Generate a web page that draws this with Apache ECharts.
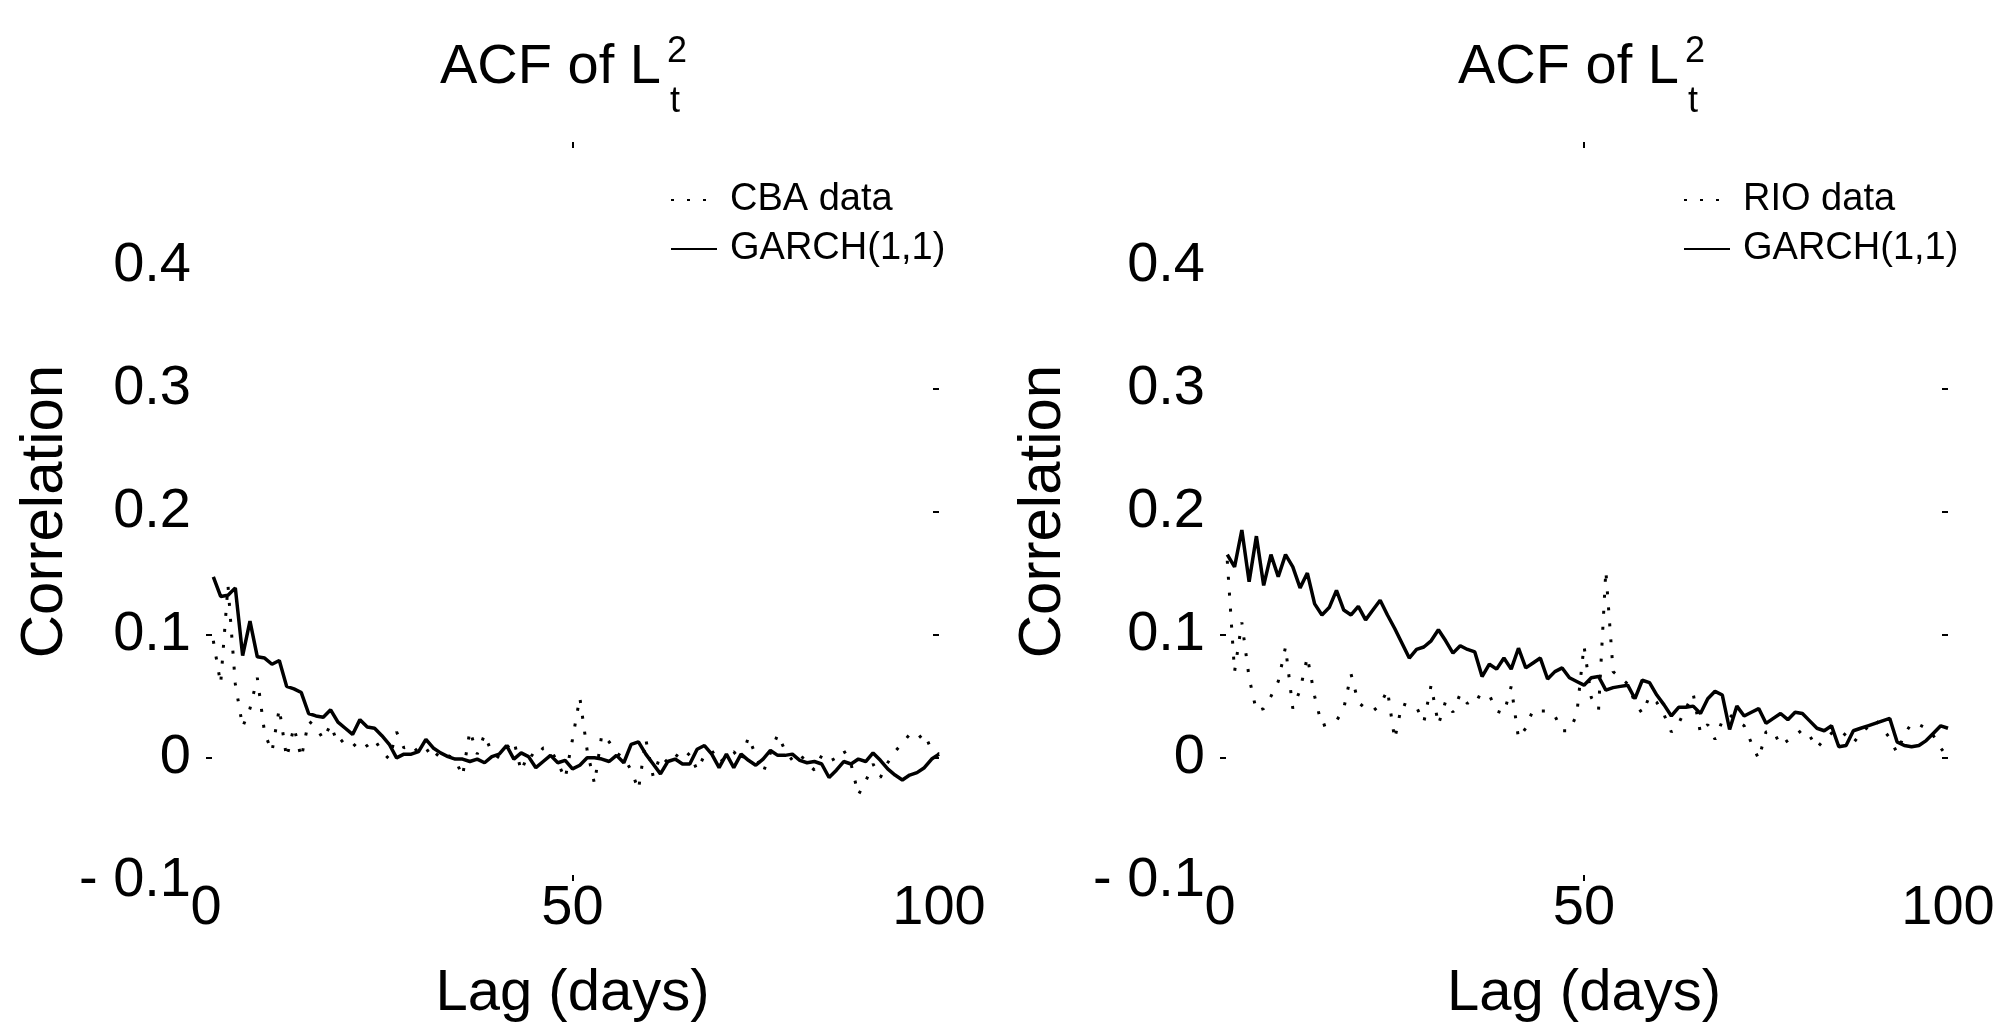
<!DOCTYPE html>
<html>
<head>
<meta charset="utf-8">
<script src="https://cdn.jsdelivr.net/npm/echarts@6/dist/echarts.min.js"></script>
<style>
html,body{margin:0;padding:0;background:#fff;}
#chart{width:2002px;height:1028px;}
</style>
</head>
<body>
<div id="chart"></div>
<script>
// ---- data ----
const lags = [1,2,3,4,5,6,7,8,9,10,11,12,13,14,15,16,17,18,19,20,
  21,22,23,24,25,26,27,28,29,30,31,32,33,34,35,36,37,38,39,40,
  41,42,43,44,45,46,47,48,49,50,51,52,53,54,55,56,57,58,59,60,
  61,62,63,64,65,66,67,68,69,70,71,72,73,74,75,76,77,78,79,80,
  81,82,83,84,85,86,87,88,89,90,91,92,93,94,95,96,97,98,99,100];

const cbaData = [0.095,0.060,0.140,0.060,0.025,0.040,0.065,0.020,0.005,0.040,
  0.000,0.025,0.000,0.030,0.025,0.015,0.027,0.011,0.016,0.012,
  0.006,0.010,0.015,0.005,-0.001,0.021,0.008,0.011,0.004,0.008,
  -0.001,0.006,0.002,-0.001,-0.015,0.022,0.003,0.019,0.004,0.000,
  0.008,0.014,-0.011,0.004,0.000,0.008,0.007,-0.004,-0.017,0.015,
  0.049,0.006,-0.021,0.019,0.013,0.004,0.000,-0.010,-0.026,0.015,
  -0.015,0.002,-0.004,0.003,-0.002,0.004,-0.010,0.002,0.006,-0.004,
  0.001,0.005,-0.003,0.017,0.002,-0.012,0.004,0.019,0.006,-0.002,
  0.003,-0.004,-0.010,0.002,-0.003,0.000,0.006,-0.005,-0.030,-0.019,
  -0.005,-0.016,-0.004,0.005,0.012,0.019,0.015,0.020,0.006,0.003];

const cbaGarch = [0.147,0.131,0.132,0.138,0.083,0.111,0.082,0.081,0.076,0.079,
  0.058,0.056,0.053,0.036,0.034,0.033,0.039,0.029,0.024,0.019,
  0.031,0.025,0.024,0.018,0.011,0.000,0.003,0.003,0.005,0.015,
  0.008,0.004,0.001,-0.001,-0.001,-0.003,-0.001,-0.004,0.001,0.003,
  0.010,-0.001,0.004,0.001,-0.008,-0.003,0.002,-0.004,-0.002,-0.009,
  -0.006,0.000,0.000,-0.001,-0.003,0.002,-0.004,0.011,0.013,0.003,
  -0.005,-0.013,-0.003,-0.001,-0.005,-0.005,0.007,0.010,0.003,-0.008,
  0.003,-0.008,0.003,-0.002,-0.006,-0.001,0.006,0.002,0.002,0.003,
  -0.002,-0.004,-0.003,-0.005,-0.016,-0.010,-0.003,-0.005,-0.001,-0.003,
  0.004,-0.002,-0.009,-0.014,-0.018,-0.014,-0.012,-0.008,-0.001,0.003];

const rioData = [0.160,0.070,0.110,0.065,0.038,0.040,0.050,0.062,0.090,0.040,
  0.055,0.082,0.050,0.026,0.028,0.030,0.040,0.068,0.045,0.040,
  0.038,0.043,0.055,0.015,0.044,0.042,0.041,0.029,0.059,0.027,
  0.046,0.037,0.052,0.044,0.051,0.048,0.051,0.038,0.036,0.058,
  0.016,0.024,0.039,0.038,0.038,0.034,0.022,0.022,0.035,0.091,
  0.049,0.039,0.152,0.070,0.065,0.060,0.045,0.036,0.050,0.045,
  0.035,0.021,0.028,0.040,0.052,0.020,0.027,0.015,0.030,0.035,
  0.030,0.026,0.012,-0.001,0.021,0.022,0.010,0.014,0.018,0.023,
  0.018,0.008,0.015,0.020,0.023,0.018,0.012,0.020,0.025,0.031,
  0.024,0.016,0.004,0.019,0.028,0.027,0.024,0.018,0.008,0.000];

const rioGarch = [0.165,0.155,0.185,0.143,0.180,0.140,0.165,0.147,0.165,0.155,
  0.138,0.150,0.125,0.116,0.122,0.136,0.120,0.116,0.123,0.112,
  0.120,0.128,0.116,0.105,0.093,0.081,0.088,0.090,0.095,0.104,
  0.095,0.085,0.091,0.088,0.086,0.066,0.076,0.072,0.081,0.072,
  0.089,0.073,0.077,0.081,0.064,0.070,0.073,0.065,0.062,0.059,
  0.065,0.066,0.055,0.057,0.058,0.059,0.048,0.063,0.061,0.051,
  0.043,0.034,0.041,0.041,0.042,0.036,0.048,0.054,0.051,0.023,
  0.042,0.034,0.037,0.040,0.028,0.032,0.036,0.031,0.037,0.036,
  0.030,0.024,0.022,0.026,0.009,0.010,0.022,0.024,0.026,0.028,
  0.030,0.032,0.013,0.010,0.009,0.010,0.014,0.020,0.026,0.024];

const panelTitles = ['ACF of L', 'ACF of L'];
const legendNames = [['CBA data', 'GARCH(1,1)'], ['RIO data', 'GARCH(1,1)']];
const xName = 'Lag (days)';
const yName = 'Correlation';

// ---- chart ----
const FONT = '"Liberation Sans", Arial, Helvetica, sans-serif';
const chart = echarts.init(document.getElementById('chart'), null, {renderer: 'canvas'});

function pairs(xs, ys) { return xs.map((x, i) => [x, ys[i]]); }
function yFmt(v) {
  const r = Math.round(v * 10) / 10;
  if (r > 0.45) return '';
  if (r === 0) return '0';
  if (r < 0) return '- ' + Math.abs(r).toFixed(1);
  return r.toFixed(1);
}
function ticks(vals) {
  return {show: true, inside: true, length: 6, customValues: vals, lineStyle: {color: '#000', width: 2}};
}
const noLine = {show: false, onZero: false};

const grids = [
  {left: 206, right: 1063, top: 142, bottom: 144},
  {left: 1220, right: 54, top: 142, bottom: 144}
];

const xAxes = [], yAxes = [];
[0, 1].forEach(g => {
  xAxes.push({
    gridIndex: g, type: 'value', min: 0, max: 100, interval: 50, position: 'bottom',
    axisLine: noLine, splitLine: {show: false}, axisTick: ticks([50]),
    axisLabel: {color: '#000', fontFamily: FONT, fontSize: 56, margin: 0},
    name: xName, nameLocation: 'middle', nameGap: 84,
    nameTextStyle: {color: '#000', fontFamily: FONT, fontSize: 58}
  });
  xAxes.push({
    gridIndex: g, type: 'value', min: 0, max: 100, interval: 50, position: 'top',
    axisLine: noLine, splitLine: {show: false}, axisTick: ticks([50]),
    axisLabel: {show: false}
  });
  yAxes.push({
    gridIndex: g, type: 'value', min: -0.1, max: 0.5, interval: 0.1, position: 'left',
    axisLine: noLine, splitLine: {show: false}, axisTick: ticks([0, 0.1]),
    axisLabel: {color: '#000', fontFamily: FONT, fontSize: 56, margin: 15, formatter: yFmt},
    name: yName, nameLocation: 'middle', nameGap: g === 0 ? 122 : 147,
    nameTextStyle: {color: '#000', fontFamily: FONT, fontSize: 60}
  });
  yAxes.push({
    gridIndex: g, type: 'value', min: -0.1, max: 0.5, interval: 0.1, position: 'right',
    axisLine: noLine, splitLine: {show: false}, axisTick: ticks([0, 0.1, 0.2, 0.3]),
    axisLabel: {show: false}
  });
});

const dotted = {color: '#000', width: 3, type: [3, 13]};
const solid = {color: '#000', width: 3.5, type: 'solid'};

const series = [
  {name: legendNames[0][0], type: 'line', xAxisIndex: 0, yAxisIndex: 0, symbol: 'none', color: '#000',
   lineStyle: dotted, data: pairs(lags, cbaData), z: 2},
  {name: legendNames[0][1], type: 'line', xAxisIndex: 0, yAxisIndex: 0, symbol: 'none', color: '#000',
   lineStyle: solid, data: pairs(lags, cbaGarch), z: 3},
  {name: legendNames[1][0], type: 'line', xAxisIndex: 2, yAxisIndex: 2, symbol: 'none', color: '#000',
   lineStyle: dotted, data: pairs(lags, rioData), z: 2},
  {name: legendNames[1][1], type: 'line', xAxisIndex: 2, yAxisIndex: 2, symbol: 'none', color: '#000',
   lineStyle: solid, data: pairs(lags, rioGarch), z: 3}
];

function legendFor(i, left) {
  return {
    data: legendNames[i], orient: 'vertical', left: left, top: 176,
    itemWidth: 46, itemHeight: 14, itemGap: 11, selectedMode: false,
    itemStyle: {opacity: 0},
    textStyle: {color: '#000', fontFamily: FONT, fontSize: 38, padding: [0, 0, 0, 8]}
  };
}

function titleGraphic(x, text) {
  return [
    {type: 'text', left: x, top: 40, style: {text: text, fill: '#000', font: '56px ' + FONT}},
    {type: 'text', left: x + 227, top: 34, style: {text: '2', fill: '#000', font: '36px ' + FONT}},
    {type: 'text', left: x + 230, top: 84, style: {text: 't', fill: '#000', font: '36px ' + FONT}}
  ];
}

chart.setOption({
  backgroundColor: '#fff',
  animation: false,
  grid: grids,
  xAxis: xAxes,
  yAxis: yAxes,
  legend: [legendFor(0, 665), legendFor(1, 1678)],
  graphic: [].concat(titleGraphic(440, panelTitles[0]), titleGraphic(1458, panelTitles[1])),
  series: series
});
</script>
</body>
</html>
